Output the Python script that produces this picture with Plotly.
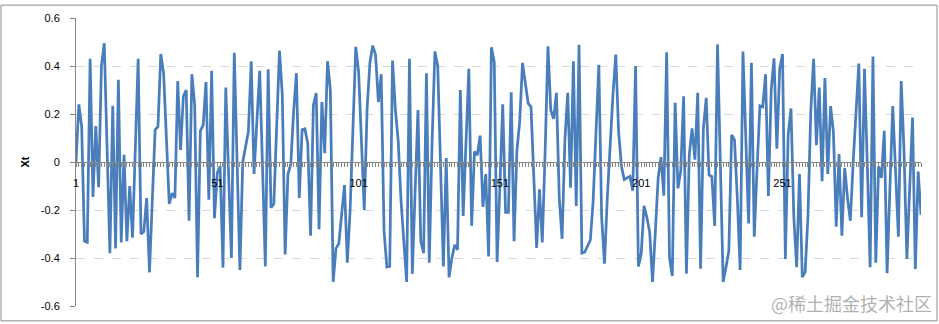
import plotly.graph_objects as go

# ---- data ----
t_index = list(range(1, 301))
xt_values = [
    0.00, 0.24, 0.15, -0.33, -0.335, 0.43, -0.146, 0.15, -0.105, 0.40,
    0.495, 0.05, -0.38, 0.234, -0.36, 0.343, -0.335, 0.03, -0.33, -0.10,
    -0.315, 0.06, 0.43, -0.30, -0.29, -0.15, -0.46, -0.16, 0.134, 0.147,
    0.45, 0.37, 0.10, -0.175, -0.13, -0.15, 0.337, 0.05, 0.275, 0.30,
    -0.245, 0.366, 0.237, -0.48, 0.13, 0.154, 0.333, -0.157, 0.38, -0.234,
    -0.045, -0.018, -0.44, 0.31, -0.05, -0.40, 0.455, 0.0, -0.45, 0.0,
    0.07, 0.127, 0.42, -0.05, 0.17, 0.38, -0.02, -0.435, 0.386, -0.19,
    -0.175, 0.124, 0.464, 0.28, -0.385, -0.05, -0.01, 0.21, 0.37, -0.15,
    0.134, 0.138, 0.078, -0.307, 0.237, 0.287, -0.28, 0.25, 0.037, 0.42,
    0.30, -0.50, -0.36, -0.34, -0.22, -0.096, -0.42, -0.20, 0.14, 0.48,
    0.377, 0.085, -0.20, 0.22, 0.415, 0.485, 0.446, 0.25, 0.366, -0.286,
    -0.438, -0.435, 0.423, 0.22, 0.09, -0.16, -0.314, -0.50, 0.43, -0.466,
    -0.12, 0.216, -0.33, -0.38, 0.37, -0.42, 0.085, 0.46, 0.40, -0.04,
    -0.435, 0.017, -0.48, -0.40, -0.345, -0.366, 0.30, -0.225, 0.07, 0.388,
    -0.266, 0.044, 0.028, 0.11, -0.187, -0.05, -0.394, 0.478, 0.416, -0.417,
    -0.10, 0.24, -0.21, -0.21, 0.29, -0.33, 0.044, 0.168, 0.413, 0.333,
    0.244, 0.23, -0.107, -0.358, -0.114, -0.335, 0.044, 0.482, 0.216, 0.18,
    0.288, -0.149, -0.32, 0.092, 0.288, -0.107, 0.42, -0.183, 0.488, -0.38,
    -0.376, -0.35, -0.325, -0.16, 0.127, 0.405, -0.23, -0.424, -0.15, 0.07,
    0.28, 0.448, 0.127, -0.018, -0.073, -0.066, -0.06, -0.12, 0.40, -0.435,
    -0.383, -0.183, -0.23, -0.293, -0.50, -0.29, -0.066, 0.02, -0.14, 0.457,
    -0.397, -0.475, 0.247, -0.11, -0.036, 0.274, -0.466, 0.03, 0.14, 0.01,
    0.288, -0.445, 0.14, 0.267, -0.055, -0.06, -0.266, 0.49, 0.0, -0.50,
    -0.438, -0.37, 0.113, 0.092, -0.149, -0.45, 0.46, 0.07, -0.256, 0.413,
    -0.311, -0.025, 0.234, 0.23, 0.366, -0.142, 0.30, 0.432, 0.055, 0.388,
    0.45, -0.404, 0.113, 0.223, -0.231, -0.438, -0.05, -0.48, -0.459, -0.225,
    0.21, 0.43, 0.07, 0.31, -0.08, 0.35, -0.05, 0.233, 0.127, -0.27,
    0.033, -0.307, -0.025, -0.15, -0.245, 0.0, 0.21, 0.41, -0.23, 0.388,
    -0.01, -0.438, 0.44, -0.42, -0.018, -0.066, 0.13, -0.463, -0.11, 0.233,
    -0.04, -0.311, 0.337, 0.044, -0.404, -0.107, 0.185, -0.446, -0.04, -0.22,
]
y_tick_vals = [-0.6, -0.4, -0.2, 0.0, 0.2, 0.4, 0.6]
y_tick_labels = ["-0.6", "-0.4", "-0.2", "0", "0.2", "0.4", "0.6"]
y_title = "Xt"
watermark = "@稀土掘金技术社区"

W, H = 939, 324
L, R, T, B = 76, 18, 15, 18
pw, ph = W - L - R, H - T - B

axis_grey = "#868686"
font_main = "Liberation Sans, Arial, sans-serif"

fig = go.Figure()
fig.add_trace(go.Scatter(
    x=t_index, y=xt_values, mode="lines",
    line=dict(color="#4a7ebb", width=2.75),
    hoverinfo="x+y", showlegend=False,
))

fig.update_layout(
    width=W, height=H,
    margin=dict(l=L, r=R, t=T, b=B),
    paper_bgcolor="white", plot_bgcolor="white",
    font=dict(family=font_main, size=11, color="#000000"),
    showlegend=False,
    xaxis=dict(
        range=[1, 300], anchor="free", position=0.5,
        showline=True, linecolor=axis_grey, linewidth=1,
        showgrid=False, zeroline=False,
        tick0=1, dtick=50, ticks="outside", ticklen=4, tickcolor=axis_grey,
        ticklabelstandoff=7,
        minor=dict(dtick=1, tick0=1, ticks="outside", ticklen=4,
                   tickcolor=axis_grey, showgrid=False),
        tickfont=dict(size=11, color="#000000"),
    ),
    yaxis=dict(
        range=[-0.6, 0.6],
        tickvals=y_tick_vals, ticktext=y_tick_labels,
        showline=True, linecolor=axis_grey, linewidth=1,
        ticks="outside", ticklen=5, tickcolor=axis_grey,
        ticklabelstandoff=8,
        showgrid=True, gridcolor="#d9d9d9", griddash="dash", gridwidth=1,
        zeroline=False,
        tickfont=dict(size=11, color="#000000"),
        title=dict(text="<b>" + y_title + "</b>", standoff=8,
                   font=dict(size=11, color="#000000")),
    ),
)

# outer chart border
fig.add_shape(
    type="rect", xref="paper", yref="paper", layer="above",
    x0=(1 - L) / pw, x1=(937 - L) / pw,
    y0=(H - B - 321) / ph, y1=(H - B - 2) / ph,
    line=dict(color="#8c8c8c", width=1), fillcolor="rgba(0,0,0,0)",
)

# watermark
fig.add_annotation(
    text=watermark, xref="paper", yref="paper",
    x=(934 - L) / pw, y=(H - B - 303) / ph,
    xanchor="right", yanchor="middle", showarrow=False,
    font=dict(family="Noto Sans CJK SC", size=18, color="rgba(150,150,150,0.75)"),
)

fig.write_html("out.html")
